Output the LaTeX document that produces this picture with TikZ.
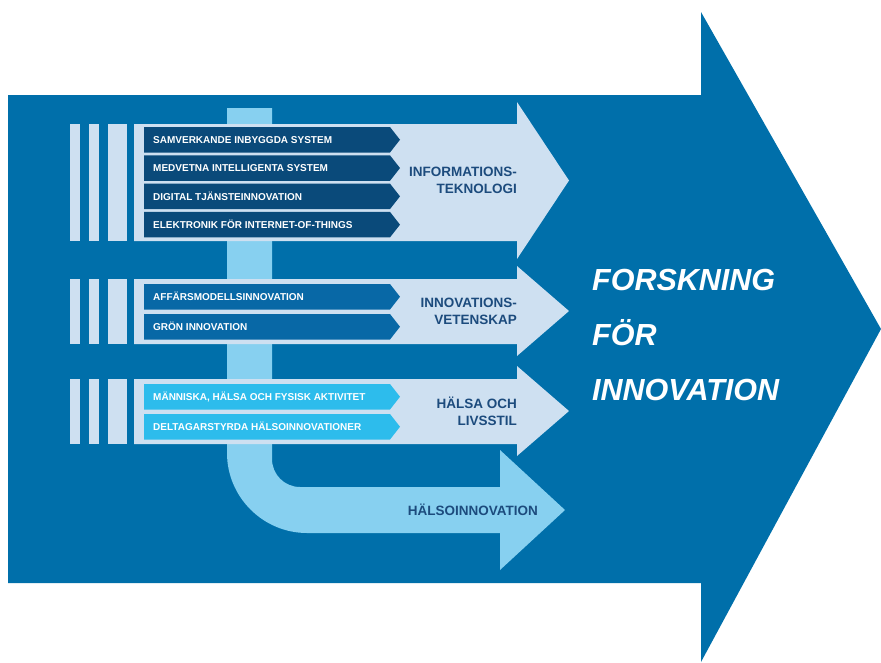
\documentclass[tikz,border=0pt]{standalone}
\usepackage{fontspec}
\setmainfont{Liberation Sans}
\definecolor{bgblue}{RGB}{0,111,170}
\definecolor{pale}{RGB}{206,224,241}
\definecolor{sky}{RGB}{135,208,240}
\definecolor{deep}{RGB}{10,74,122}
\definecolor{mid}{RGB}{8,104,166}
\definecolor{cyan}{RGB}{45,188,236}
\definecolor{labtext}{RGB}{28,75,125}
\tikzset{
  sublabel/.style={anchor=west,inner sep=0pt,text=white,font=\fontsize{10}{11}\selectfont\bfseries},
  grouplabel/.style={anchor=east,inner sep=0pt,align=right,text=labtext,font=\fontsize{13.5}{17}\selectfont\bfseries},
}
\begin{document}
\begin{tikzpicture}[x=1pt,y=-1pt]
\useasboundingbox (0,0) rectangle (881,662);
% big arrow
\fill[bgblue] (8,95) -- (701,95) -- (701,12) -- (881,329) -- (701,662) -- (701,583) -- (8,583) -- cycle;
% bar bending into the lower arrow
\fill[sky] (227,108) -- (227,453) .. controls (227,497) and (263,533) .. (307,533) -- (500,533) -- (500,570)
  -- (565,510) -- (500,450) -- (500,487) -- (300,487) .. controls (284.5,487) and (272,474.5) .. (272,459) -- (272,108) -- cycle;
\node[grouplabel] (halsoinno) at (538,510) {HÄLSOINNOVATION};
% light arrows and stripes
\foreach \bt/\bb/\ht/\hb in {124/241/102/259, 279/344/266/356, 379/444/366/456} {
  \fill[pale] (134,\bt) -- (517,\bt) -- (517,\ht) -- (569,{(\ht+\hb)/2}) -- (517,\hb) -- (517,\bb) -- (134,\bb) -- cycle;
  \foreach \xa/\xb in {70/80,89/99,108/127}
    \fill[pale] (\xa,\bt) rectangle (\xb,\bb);
}
% sub arrows
\foreach \y/\c/\t [count=\i] in {127/deep/SAMVERKANDE INBYGGDA SYSTEM,
    155.3/deep/MEDVETNA INTELLIGENTA SYSTEM,
    183.6/deep/DIGITAL TJÄNSTEINNOVATION,
    211.9/deep/ELEKTRONIK FÖR INTERNET-OF-THINGS,
    284/mid/AFFÄRSMODELLSINNOVATION,
    314/mid/GRÖN INNOVATION,
    384/cyan/{MÄNNISKA, HÄLSA OCH FYSISK AKTIVITET},
    414/cyan/DELTAGARSTYRDA HÄLSOINNOVATIONER} {
  \fill[\c] (144,\y) -- (390,\y) -- (400,{\y+12.75}) -- (390,{\y+25.5}) -- (144,{\y+25.5}) -- cycle;
  \node[sublabel] (sub\i) at (153,{\y+12.75}) {\t};
}
\node[grouplabel] (infotek) at (517,180.5) {INFORMATIONS-\\TEKNOLOGI};
\node[grouplabel] (innovet) at (517,311) {INNOVATIONS-\\VETENSKAP};
\node[grouplabel] (halsa) at (517,411) {HÄLSA OCH\\LIVSSTIL};
\node[anchor=west,inner sep=0pt,align=left,text=white,font=\fontsize{30.5}{55}\selectfont\bfseries\itshape]
  (title) at (592,335) {FORSKNING\\FÖR\\INNOVATION};
\end{tikzpicture}
\end{document}
